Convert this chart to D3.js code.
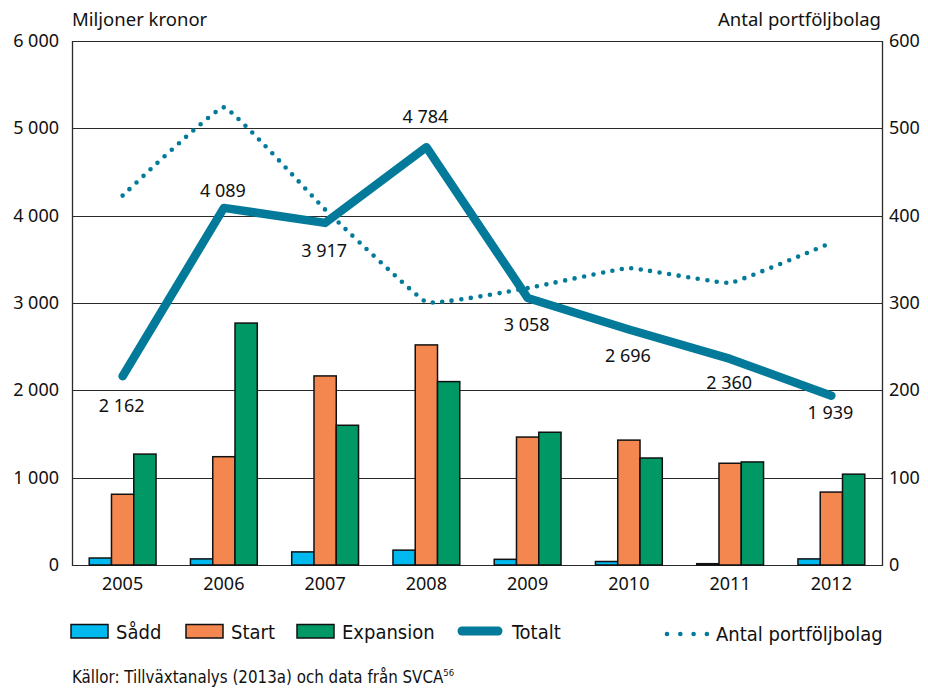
<!DOCTYPE html>
<html>
<head>
<meta charset="utf-8">
<script src="https://cdn.jsdelivr.net/npm/d3@7"></script>
<style>
  body { margin: 0; background: #fff; }
  text { font-family: "Noto Sans", "Open Sans", sans-serif; fill: #111; }
  .narrow { font-family: "Liberation Sans Narrow", "DejaVu Sans Condensed", "Noto Sans", sans-serif; }
</style>
</head>
<body>
<script>
var years = ['2005', '2006', '2007', '2008', '2009', '2010', '2011', '2012'];
var sadd = [80, 70, 150, 170, 65, 40, 15, 70];
var start = [810, 1240, 2165, 2520, 1465, 1430, 1165, 835];
var expansion = [1270, 2770, 1600, 2100, 1520, 1225, 1180, 1040];
var totalt = [2162, 4089, 3917, 4784, 3058, 2696, 2360, 1939];
var antal = [423, 524, 407, 301, 317, 340, 323, 369];
var leftTicks = [0, 1000, 2000, 3000, 4000, 5000, 6000];
var rightTicks = [0, 100, 200, 300, 400, 500, 600];

// hand placement of the Totalt value labels (vertical shift from the point)
var labelDy = [36, -11, 34, -24, 33, 32, 30, 23];

var width = 928;
var height = 689;
var plotLeft = 72, plotRight = 882, plotTop = 41, plotBottom = 565;

var barSeries = [
    { name: 'Sådd', values: sadd, color: '#00b9ef' },
    { name: 'Start', values: start, color: '#f4864f' },
    { name: 'Expansion', values: expansion, color: '#009865' }
];
var lineColor = '#037a9a';

var fmt = function (v) { return d3.format(',')(v).replace(/,/g, ' '); };

var svg = d3.select('body').append('svg')
    .attr('width', width)
    .attr('height', height);

var x = d3.scaleBand().domain(years).range([plotLeft, plotRight]);
var xs = d3.scaleBand().domain(barSeries.map(function (s) { return s.name; }))
    .range([x.bandwidth() * 0.17, x.bandwidth() * 0.83]);
var y = d3.scaleLinear().domain([0, 6000]).range([plotBottom, plotTop]);
var y2 = d3.scaleLinear().domain([0, 600]).range([plotBottom, plotTop]);

// grid
svg.append('g')
    .selectAll('line')
    .data(leftTicks)
    .enter().append('line')
    .attr('x1', plotLeft).attr('x2', plotRight)
    .attr('y1', function (d) { return Math.round(y(d)) + 0.5; })
    .attr('y2', function (d) { return Math.round(y(d)) + 0.5; })
    .attr('stroke', '#2a2a2a')
    .attr('stroke-width', 1.1);

// axis lines
svg.append('line').attr('x1', plotLeft + 0.5).attr('x2', plotLeft + 0.5).attr('y1', plotTop).attr('y2', plotBottom + 1)
    .attr('stroke', '#2a2a2a').attr('stroke-width', 1.3);
svg.append('line').attr('x1', plotRight + 0.5).attr('x2', plotRight + 0.5).attr('y1', plotTop).attr('y2', plotBottom + 1)
    .attr('stroke', '#2a2a2a').attr('stroke-width', 1.3);

// tick labels
svg.append('g').selectAll('text')
    .data(leftTicks)
    .enter().append('text')
    .attr('x', 59)
    .attr('y', function (d) { return y(d) + 6; })
    .attr('text-anchor', 'end')
    .attr('font-size', 18)
    .text(fmt);

svg.append('g').selectAll('text')
    .data(rightTicks)
    .enter().append('text')
    .attr('x', 889)
    .attr('y', function (d) { return y2(d) + 6; })
    .attr('font-size', 18)
    .text(function (d) { return d; });

svg.append('g').selectAll('text')
    .data(years)
    .enter().append('text')
    .attr('x', function (d) { return x(d) + x.bandwidth() / 2; })
    .attr('y', 590)
    .attr('text-anchor', 'middle')
    .attr('font-size', 18)
    .text(function (d) { return d; });

svg.append('text').attr('x', 72).attr('y', 26).attr('font-size', 18.5).text('Miljoner kronor');
svg.append('text').attr('x', 881).attr('y', 26).attr('text-anchor', 'end').attr('font-size', 18.5).text('Antal portföljbolag');

// bars
barSeries.forEach(function (s) {
    svg.append('g').selectAll('rect')
        .data(s.values)
        .enter().append('rect')
        .attr('x', function (d, i) { return x(years[i]) + xs(s.name); })
        .attr('y', function (d) { return y(d); })
        .attr('width', xs.bandwidth())
        .attr('height', function (d) { return y(0) - y(d); })
        .attr('fill', s.color)
        .attr('stroke', '#111')
        .attr('stroke-width', 1.5);
});

var cx = function (i) { return x(years[i]) + x.bandwidth() / 2; };

// antal portföljbolag (dotted)
svg.append('path')
    .datum(antal)
    .attr('d', d3.line()
        .x(function (d, i) { return cx(i); })
        .y(function (d) { return y2(d); })
        .curve(d3.curveCardinal.tension(0.75)))
    .attr('fill', 'none')
    .attr('stroke', lineColor)
    .attr('stroke-width', 4.6)
    .attr('stroke-linecap', 'round')
    .attr('stroke-dasharray', '0 9.6');

// totalt
svg.append('path')
    .datum(totalt)
    .attr('d', d3.line()
        .x(function (d, i) { return cx(i); })
        .y(function (d) { return y(d); }))
    .attr('fill', 'none')
    .attr('stroke', lineColor)
    .attr('stroke-width', 8.5)
    .attr('stroke-linecap', 'round')
    .attr('stroke-linejoin', 'round');

svg.append('g').selectAll('text')
    .data(totalt)
    .enter().append('text')
    .attr('x', function (d, i) { return cx(i) - 1; })
    .attr('y', function (d, i) { return y(d) + labelDy[i]; })
    .attr('text-anchor', 'middle')
    .attr('font-size', 18)
    .text(fmt);

// legend
var lg = svg.append('g');
var legendX = [71, 186, 297];
barSeries.forEach(function (s, i) {
    lg.append('rect').attr('x', legendX[i]).attr('y', 624.5).attr('width', 37).attr('height', 13.5)
        .attr('fill', s.color).attr('stroke', '#111').attr('stroke-width', 1.5);
    lg.append('text').attr('class', 'narrow').attr('x', legendX[i] + 45).attr('y', 638.5)
        .attr('font-size', 20).text(s.name);
});
lg.append('line').attr('x1', 462).attr('x2', 498).attr('y1', 631).attr('y2', 631)
    .attr('stroke', lineColor).attr('stroke-width', 9).attr('stroke-linecap', 'round');
lg.append('text').attr('class', 'narrow').attr('x', 512).attr('y', 638.5).attr('font-size', 20).text('Totalt');
lg.append('line').attr('x1', 667).attr('x2', 707).attr('y1', 634).attr('y2', 634)
    .attr('stroke', lineColor).attr('stroke-width', 4.6).attr('stroke-linecap', 'round')
    .attr('stroke-dasharray', '0 13.3');
lg.append('text').attr('class', 'narrow').attr('x', 716).attr('y', 641).attr('font-size', 20).text('Antal portföljbolag');

var src = svg.append('text').attr('class', 'narrow').attr('x', 72).attr('y', 683).attr('font-size', 16.8);
src.append('tspan').text('Källor: Tillväxtanalys (2013a) och data från SVCA');
src.append('tspan').attr('font-size', 9.5).attr('dy', -7).text('56');
</script>
</body>
</html>
